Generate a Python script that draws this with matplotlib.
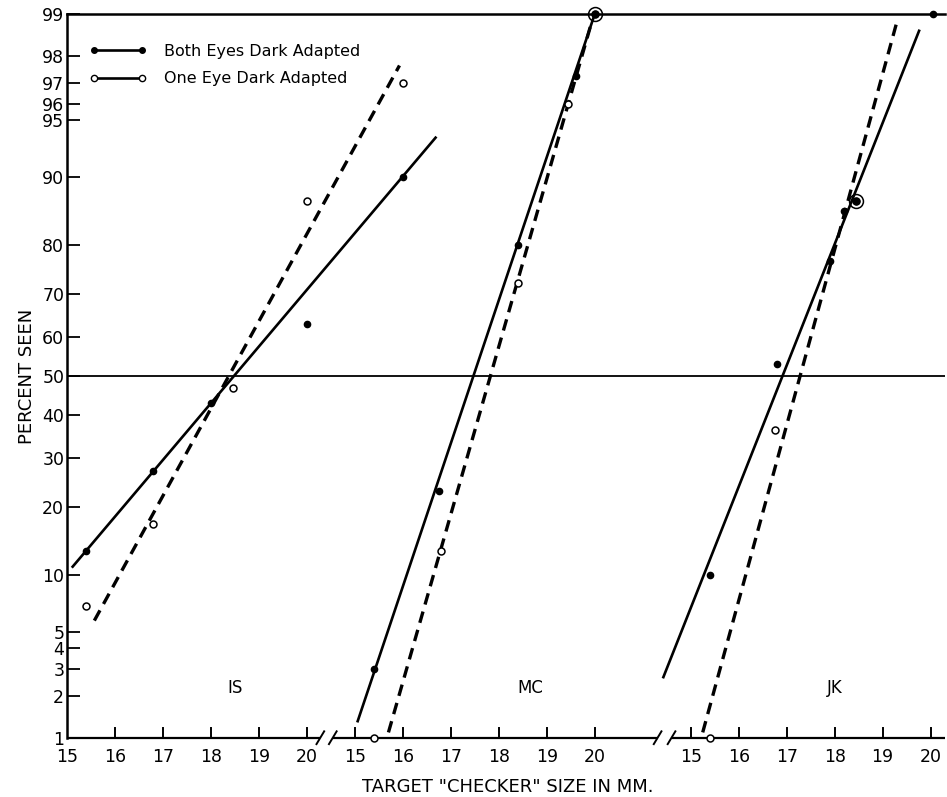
import numpy as np
import matplotlib
matplotlib.use("Agg")
from matplotlib import pyplot as plt
from matplotlib.lines import Line2D
from statistics import NormalDist

# each subject is drawn on its own 15-20 mm stretch, shifted along one axis
offsets = {"IS": 0, "MC": 6, "JK": 13}
label_x = {"IS": 18.5, "MC": 18.65, "JK": 18.0}

# Both Eyes Dark Adapted (filled) / One Eye Dark Adapted (open), percent seen
is_both_x = [15.4, 16.8, 18.0, 20.0, 22.0]
is_both_y = [13, 27, 43, 63, 90]
is_one_x = [15.4, 16.8, 18.45, 20.0, 22.0]
is_one_y = [7, 17, 47, 87, 97]
is_solid = ([15.1, 22.7], [10.9, 93.8])
is_dashed = ([15.57, 21.93], [5.8, 97.7])

mc_both_x = [15.4, 16.75, 18.4, 19.6, 20.0]
mc_both_y = [3, 23, 80, 97.3, 99]
mc_one_x = [15.4, 16.8, 18.4, 19.45, 20.0]
mc_one_y = [1, 13, 72.5, 96, 99]
mc_solid = ([15.05, 20.0], [1.3, 99])
mc_dashed = ([15.7, 19.95], [1.1, 98.9])

jk_both_x = [15.4, 16.8, 17.9, 18.2, 18.45, 20.05]
jk_both_y = [10, 53, 77, 85.5, 87, 99]
jk_one_x = [15.4, 16.75, 18.45]
jk_one_y = [1, 36.5, 87]
jk_solid = ([14.42, 19.77], [2.6, 98.7])
jk_dashed = ([15.25, 19.31], [1.1, 98.9])

y_ticks = [1, 2, 3, 4, 5, 10, 20, 30, 40, 50, 60, 70, 80, 90, 95, 96, 97, 98, 99]
x_ticks = [15, 16, 17, 18, 19, 20]

nd = NormalDist()
_ppf = np.vectorize(lambda p: nd.inv_cdf(min(max(p, 1e-6), 100 - 1e-6) / 100.0),
                    otypes=[float])
_cdf = np.vectorize(lambda z: 100.0 * nd.cdf(z), otypes=[float])


def probit(p):
    return _ppf(np.asarray(p, dtype=float))


def inv_probit(z):
    return _cdf(np.asarray(z, dtype=float))


fig = plt.figure(figsize=(9.47, 7.97), dpi=100)
ax = fig.add_axes([67 / 947, 59 / 797, 878 / 947, 724 / 797])
ax.set_yscale("function", functions=(probit, inv_probit))
ax.set_ylim(1, 99)
ax.set_xlim(15, 33.3)

lw = 1.9
panels = [
    ("IS", is_both_x, is_both_y, is_one_x, is_one_y, is_solid, is_dashed),
    ("MC", mc_both_x, mc_both_y, mc_one_x, mc_one_y, mc_solid, mc_dashed),
    ("JK", jk_both_x, jk_both_y, jk_one_x, jk_one_y, jk_solid, jk_dashed),
]
for name, bx, by, ox, oy, solid, dashed in panels:
    off = offsets[name]
    ax.plot(np.add(solid[0], off), solid[1], color="black", lw=lw,
            solid_capstyle="butt", clip_on=False, zorder=3)
    ax.plot(np.add(dashed[0], off), dashed[1], color="black", lw=2.4,
            dashes=(3.5, 2.2), clip_on=False, zorder=3)
    ax.plot(np.add(ox, off), oy, "o", ms=5, mfc="white", mec="black",
            mew=1.1, clip_on=False, zorder=4)
    ax.plot(np.add(bx, off), by, "o", ms=4.5, color="black",
            clip_on=False, zorder=5)
    # subject label
    ax.text(label_x[name] + off, 2.25, name, ha="center", va="center",
            fontsize=12)

# points where both conditions coincide get a ring round the dot
ring_x = [20.0 + offsets["MC"], 18.45 + offsets["JK"]]
ring_y = [99, 87]
ax.plot(ring_x, ring_y, "o", ms=10, mfc="none", mec="black", mew=1.1,
        clip_on=False, zorder=6)

# 50 per cent reference line
ax.axhline(50, color="black", lw=1.3)

# spines
for s in ["right", "bottom"]:
    ax.spines[s].set_visible(False)
ax.spines["left"].set_linewidth(1.8)
ax.spines["top"].set_linewidth(1.8)

# broken bottom axis drawn by hand
segments = [(15, 20.28), (20.54, 27.31), (27.6, 33.3)]
for a, b in segments:
    ax.plot([a, b], [1, 1], color="black", lw=1.6, clip_on=False,
            solid_capstyle="butt", zorder=2)
for xb in [20.28, 20.54, 27.31, 27.6]:
    ax.plot([xb - 0.08, xb + 0.08], [0.9, 1.12], color="black", lw=1.4,
            clip_on=False)
for name in ["IS", "MC", "JK"]:
    for t in x_ticks:
        xt = t + offsets[name]
        if xt == 15:
            continue
        ax.plot([xt, xt], [1, 1.18], color="black", lw=1.4, clip_on=False)
        ax.text(xt, 0.84, str(t), ha="center", va="top", fontsize=12.5)

ax.set_xticks([])
ax.set_yticks(y_ticks)
ax.set_yticklabels([str(v) for v in y_ticks])
ax.yaxis.set_minor_locator(matplotlib.ticker.NullLocator())
ax.tick_params(axis="y", direction="in", length=9, width=1.3, pad=2,
               labelsize=12.5)
ax.text(15, 0.84, "15", ha="center", va="top", fontsize=12.5)

ax.set_ylabel("PERCENT SEEN", fontsize=13, labelpad=4)
fig.text(508 / 947, 1 - 787 / 797, 'TARGET "CHECKER" SIZE IN MM.',
         ha="center", va="center", fontsize=13)

handles = [
    Line2D([], [], color="black", lw=1.9, marker="o", ms=4, mfc="black"),
    Line2D([], [], color="black", lw=1.9, marker="o", ms=4.5, mfc="white",
           mec="black"),
]
ax.legend(handles, ["Both Eyes Dark Adapted", "One Eye Dark Adapted"],
          loc="upper left", bbox_to_anchor=(0.025, 0.959), frameon=False,
          numpoints=2, handlelength=3.6, handletextpad=1.1, labelspacing=0.78,
          borderpad=0, borderaxespad=0, fontsize=11.5)

fig.savefig("out.png", dpi=100)
